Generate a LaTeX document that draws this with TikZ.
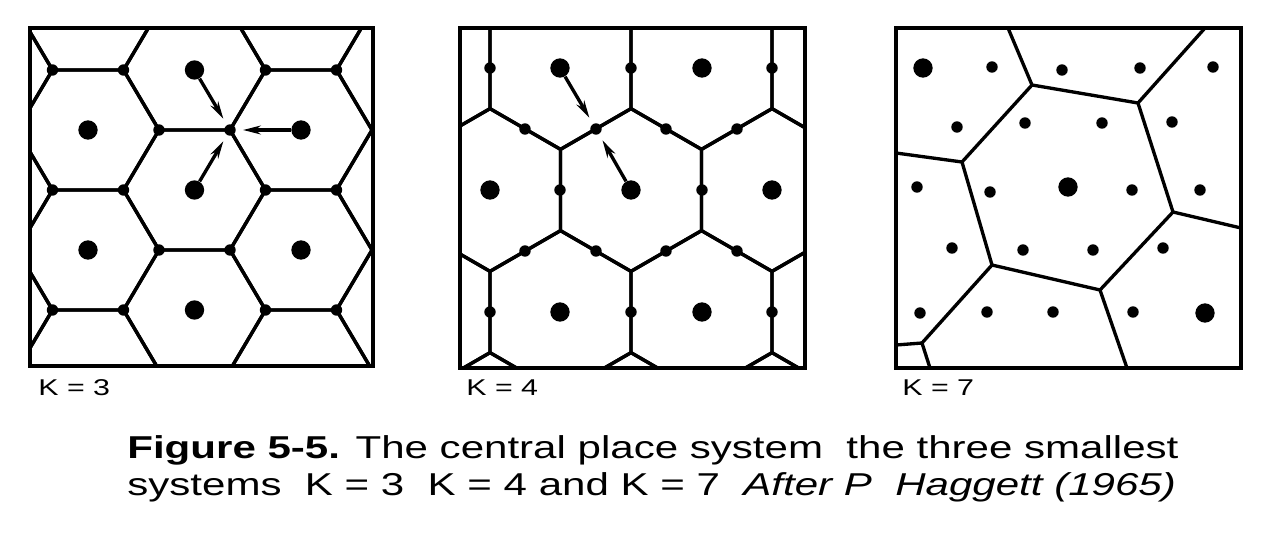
\documentclass[tikz,border=0pt]{standalone}
\usepackage{fontspec}
\setmainfont{Liberation Sans}
\newfontfamily\capfont[FakeStretch=1.33]{Liberation Sans}
\usetikzlibrary{arrows.meta}

\begin{document}
\begin{tikzpicture}[x=0.02cm, y=-0.02cm,
    edge/.style={black, line width=1.9pt, line join=round},
    frame/.style={black, line width=2.2pt},
    town/.style={circle, fill=black, inner sep=0pt, minimum size=11pt},
    hamlet/.style={circle, fill=black, inner sep=0pt, minimum size=6.5pt},
    flow/.style={-{Stealth[length=10pt,width=5pt]}, black, line width=1.9pt, shorten >=4pt},
    klabel/.style={anchor=base west, inner sep=0pt, font=\capfont\fontsize{13}{15}\selectfont},
    caption/.style={anchor=base west, inner sep=0pt, font=\capfont\fontsize{18}{22}\selectfont}]
  \useasboundingbox (0,0) rectangle (1272,534);

  % K = 3
  \begin{scope}
    \clip (30,28) rectangle (373,366);
    \foreach \i in {-1,...,3}
      \foreach \j in {-1,...,3} {
        \pgfmathsetmacro\cx{88+106.5*\i}
        \pgfmathsetmacro\cy{130+120*\j-60*mod(abs(\i),2)}
        \draw[edge, shift={(\cx,\cy)}] (71,0) -- (35.5,-60) -- (-35.5,-60) -- (-71,0) -- (-35.5,60) -- (35.5,60) -- cycle;
      }
  \end{scope}
  \draw[frame] (30,28) rectangle (373,366);
  \foreach \x/\y [count=\n] in {159/130, 230/130, 159/250, 230/250,
      52.5/70, 123.5/70, 265.5/70, 336.5/70, 52.5/190, 123.5/190, 265.5/190, 336.5/190,
      52.5/310, 123.5/310, 265.5/310, 336.5/310}
    \node[hamlet] (h3-\n) at (\x,\y) {};
  \foreach \x/\y [count=\n] in {88/130, 88/250, 194.5/70, 194.5/190, 194.5/310, 301/130, 301/250}
    \node[town] (c3-\n) at (\x,\y) {};
  \draw[flow] (c3-3) -- (h3-2);
  \draw[flow] (c3-4) -- (h3-2);
  \draw[flow] (c3-6) -- (h3-2);
  \node[klabel] (k3) at (38,395) {K = 3};

  % K = 4
  \begin{scope}
    \clip (460,28) rectangle (805,368);
    \foreach \i in {-1,...,2}
      \foreach \j in {-2,...,2} {
        \pgfmathsetmacro\cx{490+141*\i+70.5*mod(abs(\j),2)}
        \pgfmathsetmacro\cy{190+122*\j}
        \draw[edge, shift={(\cx,\cy)}] (30:81.4) -- (90:81.4) -- (150:81.4) -- (210:81.4) -- (270:81.4) -- (330:81.4) -- cycle;
      }
  \end{scope}
  \draw[frame] (460,28) rectangle (805,368);
  \foreach \x/\y [count=\n] in {490/68, 631/68, 772/68, 560/190, 702/190, 490/312, 631/312, 772/312,
      525/129, 596/129, 666/129, 737/129, 525/251, 596/251, 666/251, 737/251}
    \node[hamlet] (h4-\n) at (\x,\y) {};
  \foreach \x/\y [count=\n] in {560/68, 702/68, 490/190, 631/190, 772/190, 560/312, 702/312}
    \node[town] (c4-\n) at (\x,\y) {};
  \draw[flow] (c4-1) -- (h4-10);
  \draw[flow] (c4-4) -- (h4-10);
  \node[klabel] (k4) at (466,395) {K = 4};

  % K = 7
  \draw[frame] (896,28) rectangle (1241,368);
  \coordinate (a) at (1008,28);
  \coordinate (b) at (1032,85);
  \coordinate (c) at (1138,103);
  \coordinate (d) at (1205,28);
  \coordinate (e) at (962,162);
  \coordinate (f) at (896,153);
  \coordinate (g) at (1173,212);
  \coordinate (h) at (1241,228);
  \coordinate (i) at (992,265);
  \coordinate (j) at (1100,290);
  \coordinate (k) at (922,343);
  \coordinate (kl) at (896,345);
  \coordinate (kb) at (930,368);
  \coordinate (m) at (1127,368);
  \draw[edge] (a) -- (b) -- (c) -- (d);
  \draw[edge] (f) -- (e) -- (b);
  \draw[edge] (c) -- (g) -- (h);
  \draw[edge] (e) -- (i) -- (j) -- (g);
  \draw[edge] (kl) -- (k) -- (kb);
  \draw[edge] (i) -- (k);
  \draw[edge] (j) -- (m);
  \foreach \x/\y [count=\n] in {992/67, 1062/70, 1140/68, 1213/67, 957/127, 1025/123, 1102/123, 1172/122,
      917/187, 990/192, 1132/190, 1200/190, 952/248, 1023/250, 1093/250, 1163/248,
      920/313, 987/312, 1053/312, 1133/312}
    \node[hamlet] (h7-\n) at (\x,\y) {};
  \foreach \x/\y [count=\n] in {923/68, 1068/187, 1205/313}
    \node[town] (c7-\n) at (\x,\y) {};
  \node[klabel] (k7) at (902,395) {K = 7};

  \node[caption] (cap1) at (127,458) {\textbf{Figure 5-5.} The central place system\ \ the three smallest};
  \node[caption] (cap2) at (127,495) {systems\ \ K = 3\ \ K = 4 and K = 7\ \ \textit{After P\ \ Haggett (1965)}};
\end{tikzpicture}
\end{document}
